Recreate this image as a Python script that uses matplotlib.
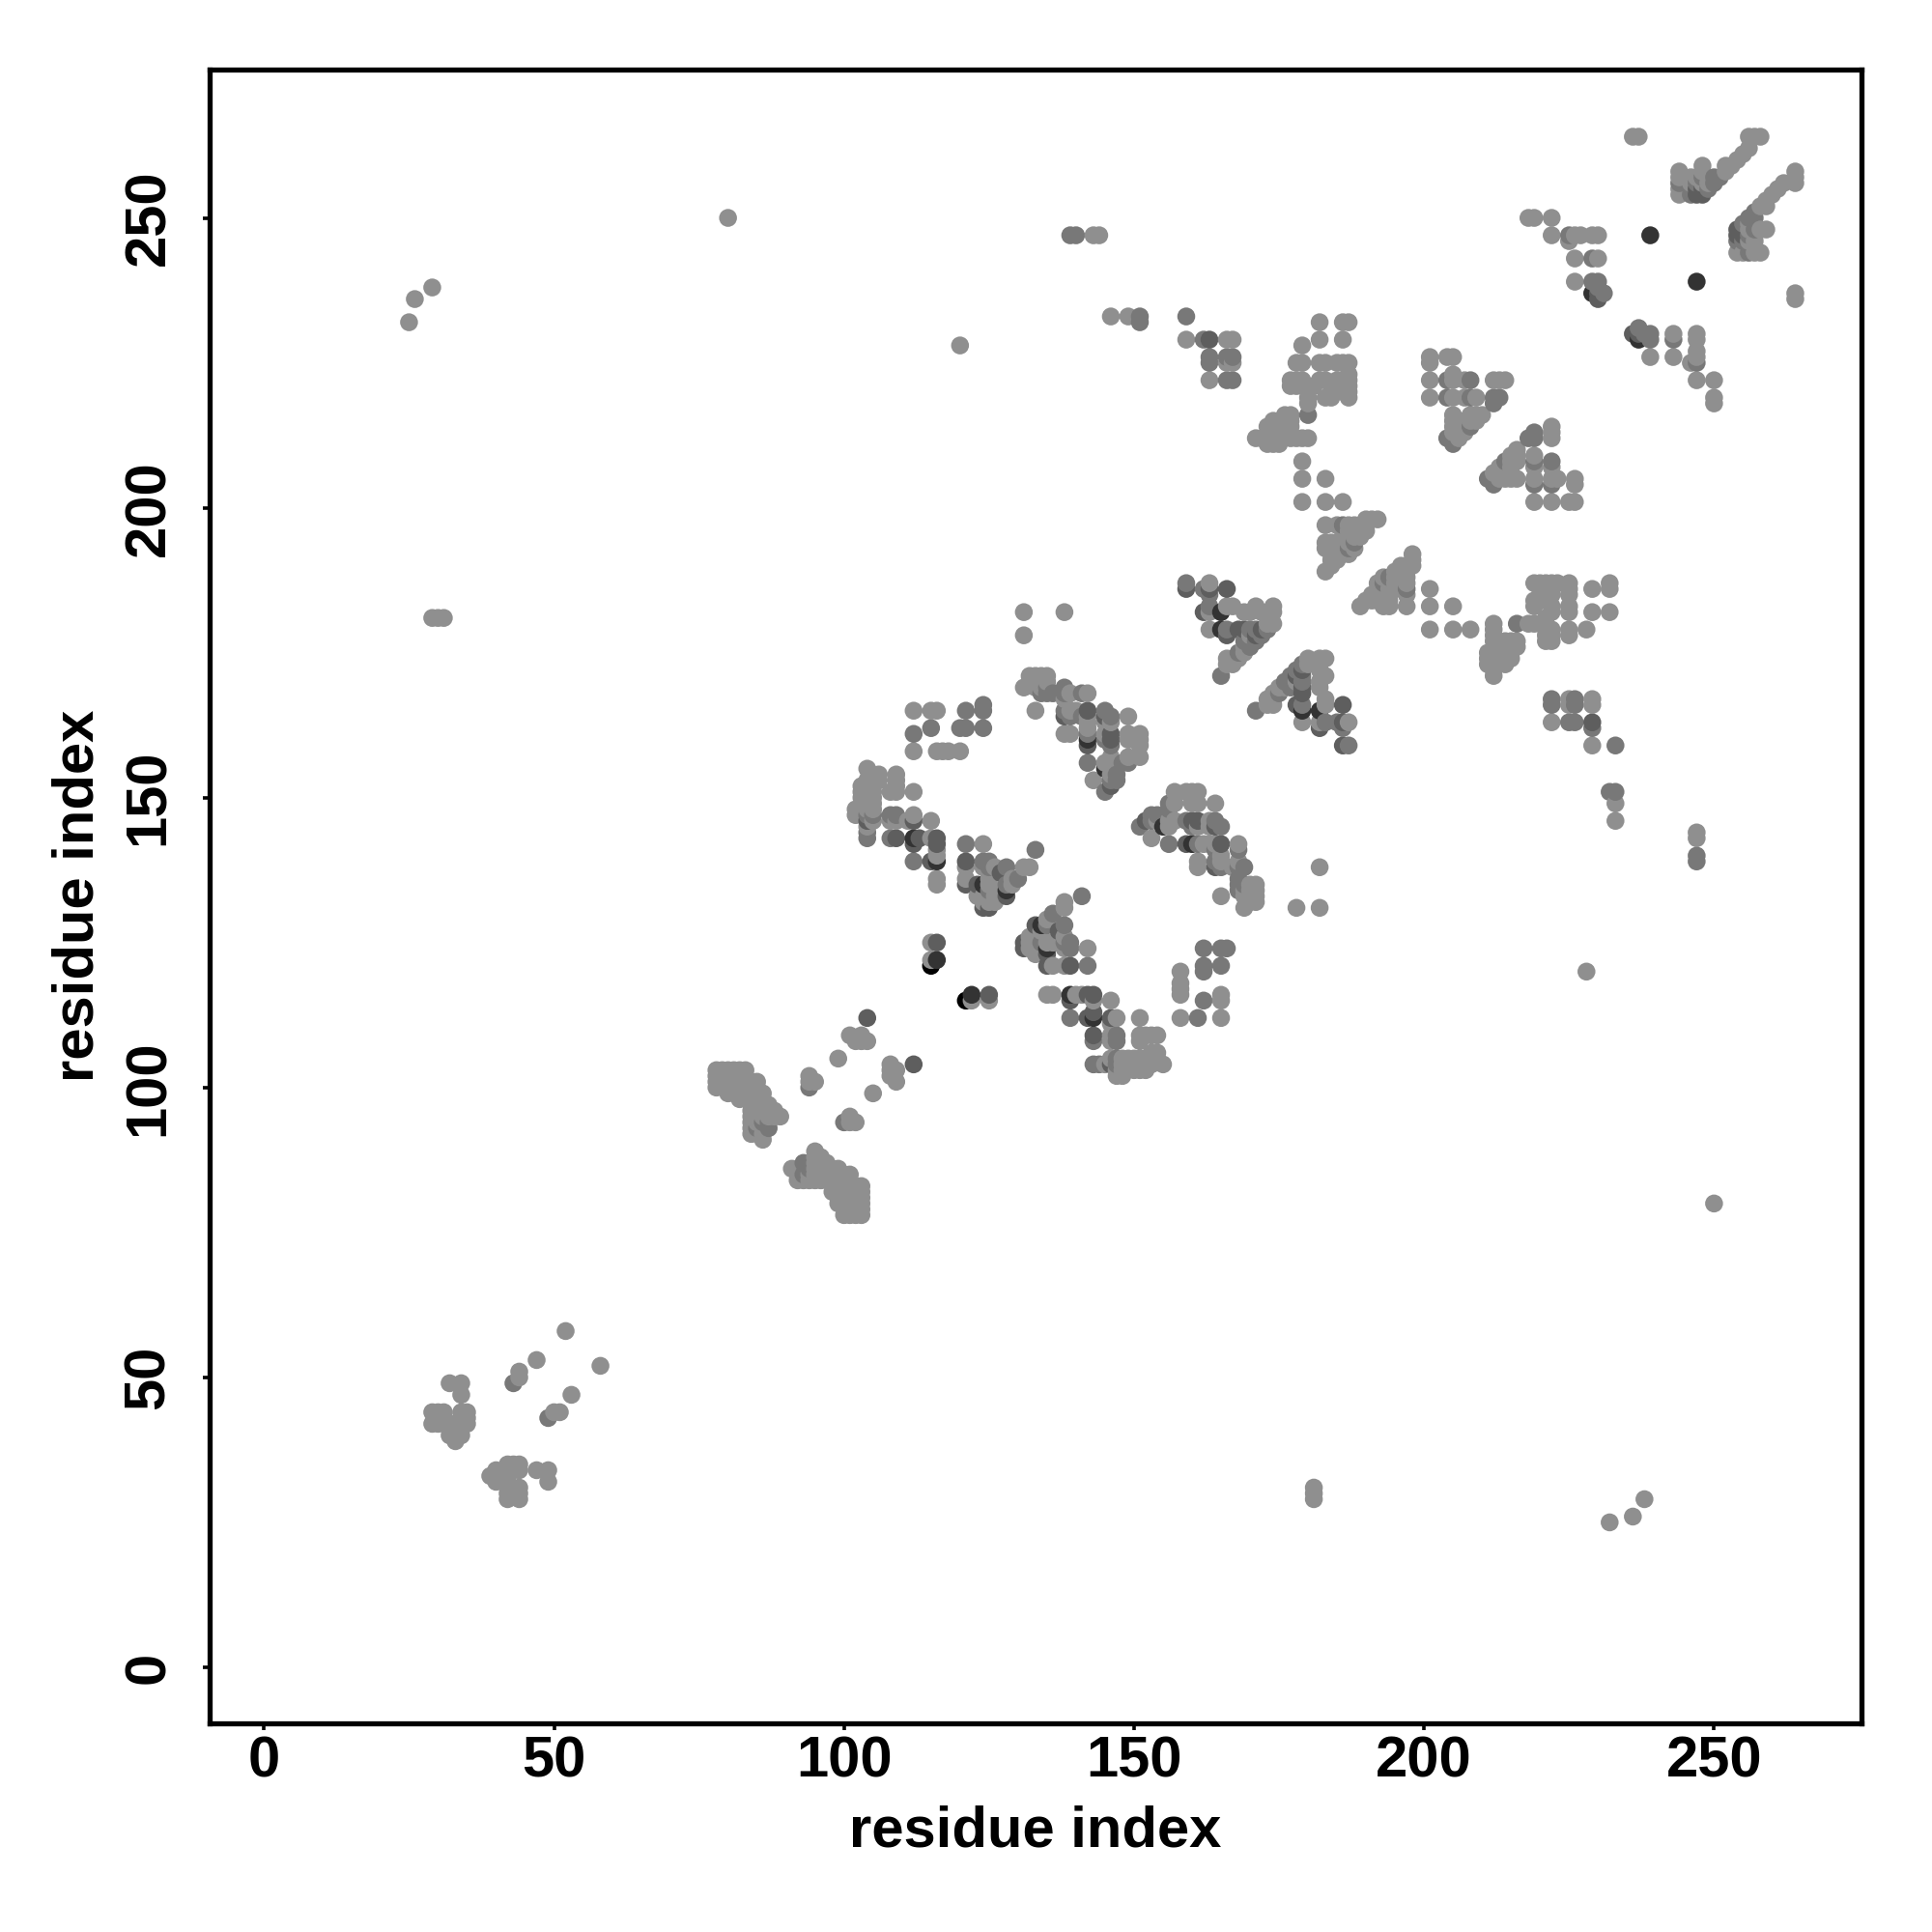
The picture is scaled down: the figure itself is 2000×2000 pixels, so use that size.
import matplotlib
matplotlib.use("Agg")
import matplotlib.pyplot as plt
import numpy as np

plt.rcParams['font.family'] = ['Liberation Sans', 'DejaVu Sans']

tick_values = [0, 50, 100, 150, 200, 250]
axis_label = "residue index"

# contacts (i < j); the map is symmetric, each is drawn at (i,j) and (j,i)
contacts_light = [
 (25,232),(26,236),(29,238),(29,181),(30,181),(31,181),(80,250),(120,228),(131,178),(131,182),(138,182),(146,233),(149,233),(143,247),(144,247),
 (29,42),(29,44),(30,42),(30,43),(30,44),(31,42),(31,44),(32,42),(33,42),(32,40),(33,39),(33,40),(34,40),(34,42),(34,43),(34,44),(35,42),(35,43),(35,44),(32,49),(34,49),(34,47),(44,50),(44,51),(47,53),(52,58),
 (78,100),(78,101),(78,102),(78,103),(79,101),(79,102),(79,103),(80,99),(80,100),(80,101),(80,102),(80,103),(81,99),(81,100),(81,101),(81,102),(81,103),
 (82,98),(82,99),(82,100),(82,101),(82,102),(82,103),(83,100),(83,101),(83,102),(83,103),(84,99),(84,100),(84,101),(85,98),(85,99),(85,100),(85,101),(86,97),(86,98),(86,99),(87,97),
 (84,92),(84,93),(84,94),(84,95),(84,96),(84,97),(85,92),(85,94),(85,95),(85,96),(86,92),(86,95),(86,96),(87,95),(87,96),(88,95),(88,96),(89,95),(86,91),
 (94,101),(94,102),(95,101),(99,105),(101,109),(102,108),(103,108),(103,109),(104,108),
 (112,165),(115,165),(116,165),(112,158),(116,158),(117,158),(118,158),(120,158),
 (104,155),(105,154),(106,154),(106,153),(109,154),(109,153),(109,152),(109,151),(112,151),(103,152),(103,151),(104,153),(105,152),(105,151),(104,151),(108,151),
 (103,150),(104,150),(105,150),(104,149),(105,149),(102,148),(102,147),(103,148),(103,147),(104,148),(105,148),(105,146),(104,145),(108,146),(109,146),(112,147),(111,146),(115,146),(115,143),(116,141),(116,140),(116,136),(116,135),(121,138),(121,136),(124,142),(124,138),
 (115,125),(115,122),(115,122),
 (123,133),(124,133),(125,133),(126,133),(124,132),(125,132),(126,132),(127,133),(127,134),(128,133),(125,137),(125,136),(125,135),(129,135),(129,136),(131,138),(132,138),(126,138),
 (131,169),(132,171),(133,171),(134,171),(135,171),(132,170),(133,170),(134,170),(135,170),(133,169),(134,169),(133,165),(139,168),(138,167),(139,165),(138,161),(139,161),(142,168),(140,165),(142,164),(142,163),(142,162),(146,163),(145,163),(145,161),(149,164),(149,161),(149,160),(150,160),(151,161),(151,160),(151,159),(151,157),(149,157),(146,157),(145,156),(146,156),(143,153),(146,154),
 (163,187),(163,182),(166,183),(167,183),(169,182),(170,182),(171,183),(172,182),(173,182),(174,182),(174,183),(163,179),(173,180),(174,180),(167,174),(166,174),(166,173),(167,173),(168,174),(169,175),(169,176),(170,178),
 (159,229),(166,229),(167,229),(166,225),(167,225),(163,222),
 (179,201),(183,201),(186,201),(179,205),(183,205),(179,208),
 (183,197),(185,197),(187,197),(188,197),(189,197),(190,197),(190,198),(191,198),(192,198),(183,194),(183,193),(183,189),(184,191),(184,190),(184,192),(184,193),(184,194),(185,194),(186,194),(186,196),(187,196),(188,196),(189,196),(187,195),(188,195),(187,194),(187,192),(186,193),(185,192),(185,191),(186,192),(188,193),(189,195),(190,196),
 (201,226),(201,225),(204,226),(205,226),(201,222),(205,222),(205,223),(207,222),(212,222),(213,222),(214,222),(201,219),(205,219),(207,219),(209,219),(205,216),(208,216),(209,216),(210,216),(205,215),(206,215),(207,215),(208,215),(209,215),(205,214),(206,214),(207,214),(206,212),(206,213),(207,213),(205,213),
 (171,212),(172,212),(173,211),(174,211),(175,211),(174,212),(174,213),(175,213),(175,214),(176,213),(176,216),(177,214),(174,215),(173,214),(174,214),(177,212),(178,212),(177,216),(180,212),(179,212),(176,214),(177,215),(176,215),(175,215),
 (182,232),(186,232),(187,232),(182,229),(186,229),(179,228),(178,225),(179,225),(182,225),(183,225),(185,225),(186,225),(187,225),(177,221),(177,222),(178,222),(179,222),(180,221),(181,221),(182,222),(183,222),(184,221),(185,222),(185,221),(186,222),(186,221),(186,220),(187,223),(187,222),(187,221),(187,220),(187,219),(183,219),(184,219),(180,219),(180,218),(179,221),(178,221),
 (218,250),(219,250),(222,250),(222,247),(225,246),(226,247),(227,247),(229,247),(230,247),(226,243),(230,243),(226,239),
 (236,264),(237,264),(244,258),(244,257),(244,255),(244,254),(247,257),(246,256),(248,259),(248,258),(248,256),(249,256),(252,258),(252,259),(253,259),(254,260),(255,261),(256,262),(256,264),(257,264),(258,264),(246,257),
]
contacts_mid = [
 (139,247),(140,247),(151,232),(151,233),(159,233),(43,49),(94,100),(85,93),(86,94),(87,93),(87,94),
 (121,165),(124,165),(124,166),(112,161),(115,162),(120,162),(121,162),(124,162),
 (104,147),(105,147),(104,144),(104,143),(108,147),(109,147),(108,143),(112,139),(121,142),(124,139),(125,139),(125,138),(128,138),(130,136),(133,141),(128,135),(125,134),
 (135,169),(134,168),(135,168),(136,168),(138,169),(138,168),(138,165),(139,164),(141,168),(141,164),(142,161),(145,165),(146,164),(145,160),(146,159),(149,156),(148,156),(142,156),(145,151),(147,153),(146,153),(147,154),
 (162,186),(163,185),(163,183),(166,179),(170,179),(171,179),(173,179),(165,171),(169,177),(170,176),(170,177),(171,177),(172,178),(168,175),(159,187),
 (162,229),(163,226),(163,225),(166,226),(167,226),(166,222),(167,222),
 (186,197),(187,193),(188,194),(180,216),
 (204,222),(208,222),(204,219),(208,219),(212,219),(213,219),(212,218),(208,214),(204,212),(205,212),(205,211),
 (231,237),(230,238),(230,239),(229,239),(229,243),(225,247),
 (244,256),(247,256),(246,255),(246,254),(248,257),(249,255),(250,256),(250,257),(251,257),
]
contacts_dark = [
 (104,146),(109,143),(112,146),(112,142),(113,143),(116,143),(116,142),(115,139),(121,139),(121,135),(123,135),(124,131),(125,131),(127,137),(128,133),
 (116,125),(104,112),
 (138,164),(142,165),(145,164),(146,161),(146,160),(142,159),(146,152),
 (159,186),(163,186),(166,186),(162,182),(166,178),(168,179),(169,179),(172,179),(171,178),
 (163,229),(247,255),(247,254),(248,255),(248,254),(230,236),(230,237),
]
contacts_vdark = [
 (239,247),(229,237),(116,139),(112,143),(116,122),(124,135),
 (142,160),(145,155),(165,182),(165,179),(128,134),
]
contacts_black = [
 (115,121),
]

grays = {"light": 0.56, "mid": 0.47, "dark": 0.37, "vdark": 0.20, "black": 0.0}

shade_of = {}
for name, group in [("light", contacts_light), ("mid", contacts_mid), ("dark", contacts_dark),
                    ("vdark", contacts_vdark), ("black", contacts_black)]:
    for i, j in group:
        shade_of[(min(i, j), max(i, j))] = name

pts = []
for (i, j), name in shade_of.items():
    pts.append((i, j, grays[name]))
    pts.append((j, i, grays[name]))
pts.sort(key=lambda p: (p[0], p[1]))
xs = np.array([p[0] for p in pts])
ys = np.array([p[1] for p in pts])
cs = [str(p[2]) for p in pts]

fig = plt.figure(figsize=(20, 20), dpi=100)
ax = fig.add_axes([216.7/2000, 1-1783.5/2000, (1927.5-216.7)/2000, (1783.5-71.5)/2000])
ax.scatter(xs, ys, s=178, c=cs, linewidths=0, zorder=2)
ax.set_xlim(-9.43, 275.5)
ax.set_ylim(-9.58, 275.67)
for s in ax.spines.values():
    s.set_linewidth(3.8)
ax.set_xticks(tick_values)
ax.set_yticks(tick_values)
ax.tick_params(axis='x', length=5, width=2.6, labelsize=43, pad=4.5)
ax.tick_params(axis='y', length=5, width=2.6, labelsize=43, pad=20)
for t in ax.get_xticklabels():
    t.set_fontweight('bold')
for t in ax.get_yticklabels():
    t.set_fontweight('bold')
    t.set_rotation(90)
    t.set_va('center')
ax.set_xlabel(axis_label, fontsize=43, fontweight='bold', labelpad=12)
ax.set_ylabel(axis_label, fontsize=43, fontweight='bold', labelpad=13)
fig.savefig("out.png", dpi=100, facecolor='white')
